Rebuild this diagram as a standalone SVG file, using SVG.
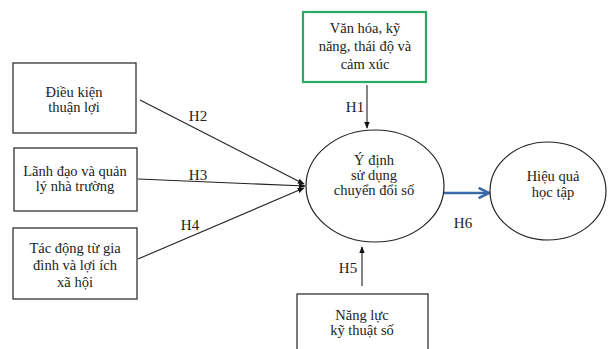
<svg xmlns="http://www.w3.org/2000/svg" width="609" height="349" viewBox="0 0 609 349">
<style>
.box{fill:#fff;stroke:#333;stroke-width:1.3}
.green{fill:#fff;stroke:#2ba866;stroke-width:2.2}
.ell{fill:#fff;stroke:#222;stroke-width:1.2}
text{font-family:"Liberation Serif","Times New Roman",serif;font-size:14.5px;fill:#222;text-anchor:middle}
.lbl{font-size:15px}
.con{stroke:#222;stroke-width:1.1;fill:none}
.blue{stroke:#3a6aa6;stroke-width:2.6;fill:none}
</style>
<defs>
<marker id="ah" viewBox="0 0 10 10" refX="9" refY="5" markerWidth="7" markerHeight="7" markerUnits="userSpaceOnUse" orient="auto">
<path d="M0,1 L10,5 L0,9 Z" fill="#111"/>
</marker>
<marker id="ahb" viewBox="0 0 10 10" refX="9" refY="5" markerWidth="5" markerHeight="6" orient="auto">
<path d="M1,1 L9,5 L1,9" fill="none" stroke="#3a6aa6" stroke-width="2"/>
</marker>
</defs>
<rect width="609" height="349" fill="#fff"/>
<g id="connectors">
<line class="con" x1="140" y1="100" x2="304" y2="184" marker-end="url(#ah)"/>
<line class="con" x1="138" y1="179" x2="305" y2="186" marker-end="url(#ah)"/>
<line class="con" x1="138" y1="259" x2="304" y2="188" marker-end="url(#ah)"/>
<line class="con" x1="367" y1="85" x2="367" y2="128" marker-end="url(#ah)"/>
<line class="con" x1="362" y1="286" x2="362" y2="247" marker-end="url(#ah)"/>
<line class="blue" x1="444" y1="193" x2="489" y2="193" marker-end="url(#ahb)"/>
<text class="lbl" x="198" y="121">H2</text>
<text class="lbl" x="198" y="180">H3</text>
<text class="lbl" x="190" y="230">H4</text>
<text class="lbl" x="355" y="112">H1</text>
<text class="lbl" x="348" y="273">H5</text>
<text class="lbl" x="463" y="228">H6</text>
</g>
<g id="n1">
<rect class="box" x="13" y="63" width="123" height="70"/>
<text x="74" y="97">Điều kiện</text>
<text x="74" y="112">thuận lợi</text>
</g>
<g id="n2">
<rect class="box" x="14" y="148" width="123" height="63"/>
<text x="75" y="176">Lãnh đạo và quản</text>
<text x="75" y="191">lý nhà trường</text>
</g>
<g id="n3">
<rect class="box" x="13" y="228" width="124" height="71"/>
<text x="75" y="253">Tác động từ gia</text>
<text x="75" y="270">đình và lợi ích</text>
<text x="75" y="287">xã hội</text>
</g>
<g id="n4">
<rect class="green" x="303" y="12" width="123" height="70"/>
<text x="365" y="33">Văn hóa, kỹ</text>
<text x="365" y="51">năng, thái độ và</text>
<text x="365" y="69">cảm xúc</text>
</g>
<g id="n5">
<rect class="box" x="297" y="294" width="131" height="62"/>
<text x="362" y="320">Năng lực</text>
<text x="362" y="335">kỹ thuật số</text>
</g>
<g id="n6">
<ellipse class="ell" cx="375" cy="186" rx="69" ry="56"/>
<text x="374" y="165">Ý định</text>
<text x="374" y="180">sử dụng</text>
<text x="374" y="195">chuyển đổi số</text>
</g>
<g id="n7">
<ellipse class="ell" cx="548" cy="191" rx="58" ry="49"/>
<text x="553" y="181">Hiệu quả</text>
<text x="553" y="197">học tập</text>
</g>
</svg>
